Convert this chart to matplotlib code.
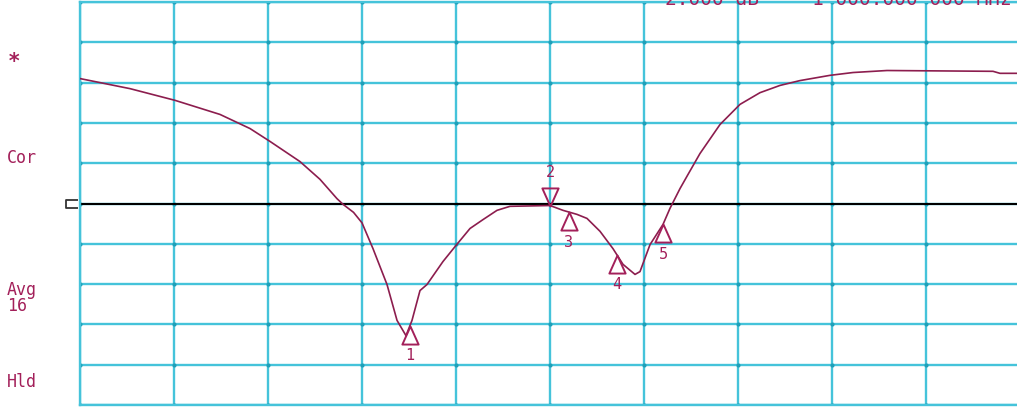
import numpy as np
import matplotlib
matplotlib.use("Agg")
import matplotlib.pyplot as plt
from matplotlib.path import Path
from matplotlib.transforms import blended_transform_factory

# ---- data (frequency in MHz, level in dB; 20 MHz/div, 1 dB/div, ref 0 dB) ----
freq = [900.0, 910.64, 920.21, 929.79, 936.17, 940.43, 946.81, 951.06, 954.68, 955.96,
        958.2, 960.0, 962.34, 965.32, 967.45, 969.36, 970.64, 972.34, 973.83, 977.23, 979.79,
        982.98, 985.74, 988.72, 991.49, 1000.0, 1002.77, 1005.74, 1007.87, 1010.64, 1013.40,
        1015.53, 1018.09, 1019.15, 1021.28, 1024.04, 1025.53, 1027.66, 1029.36, 1031.91, 1036.17,
        1040.43, 1044.68, 1048.94, 1053.19, 1059.57, 1064.47, 1071.70, 1094.26, 1095.74, 1100.0]
level = [3.10, 2.85, 2.56, 2.21, 1.86, 1.54, 1.04, 0.60, 0.12, -0.02,
         -0.22, -0.48, -1.12, -2.01, -2.90, -3.28, -2.90, -2.16, -2.01, -1.44, -1.07,
         -0.62, -0.40, -0.17, -0.07, -0.05, -0.17, -0.27, -0.37, -0.69, -1.12,
         -1.51, -1.76, -1.69, -1.02, -0.52, -0.12, 0.37, 0.72, 1.24, 1.96,
         2.46, 2.75, 2.93, 3.05, 3.18, 3.25, 3.30, 3.28, 3.23, 3.23]

marker_ids = ["1", "2", "3", "4", "5"]
marker_freq = [970.21, 1000.0, 1004.04, 1014.26, 1024.04]
marker_up = [True, False, True, True, True]

ref_level = 0.0
f_start, f_stop = 900.0, 1100.0
y_top, y_bot = 5.0, -5.0

side_labels = ["*", "Cor", "Avg\n16", "Hld"]
header_texts = ["2.000 dB", "1 000.000 000 MHz"]

# ---- style ----
GRID = "#45c3da"
DOT = "#1f9fb8"
TRACE = "#8c1d4e"
TEXT = "#a3205a"

fig = plt.figure(figsize=(10.17, 4.16), dpi=100)
fig.patch.set_facecolor("white")
ax = fig.add_axes([80 / 1017, 1 - 405 / 416, 940 / 1017, 403 / 416])
ax.set_xlim(f_start, f_stop)
ax.set_ylim(y_bot, y_top)

xt = np.linspace(f_start, f_stop, 11)
yt = np.linspace(y_bot, y_top, 11)
for x in xt:
    ax.axvline(x, color=GRID, lw=1.7, zorder=1)
for y in yt:
    ax.axhline(y, color=GRID, lw=1.7, zorder=1)
gx, gy = np.meshgrid(xt, yt)
ax.scatter(gx.ravel(), gy.ravel(), s=9, color=DOT, zorder=1.5, linewidths=0)
for s in ax.spines.values():
    s.set_color(GRID)
    s.set_linewidth(1.7)
ax.set_xticks([])
ax.set_yticks([])

# reference line
ax.axhline(ref_level, color="black", lw=1.5, zorder=2)
bt = blended_transform_factory(ax.transAxes, ax.transData)
ref_path = Path([(0.5, 0.35), (-0.5, 0.35), (-0.5, -0.35), (0.5, -0.35)],
                [Path.MOVETO, Path.LINETO, Path.LINETO, Path.LINETO])
ax.plot([-0.008], [ref_level], transform=bt, marker=ref_path, ms=9, mfc="none",
        mec="#333333", mew=1.3, clip_on=False, zorder=3)

# trace
ax.plot(freq, level, color=TRACE, lw=1.2, zorder=4)

# markers
up_tri = Path([(0, 0), (-0.45, -1), (0.45, -1), (0, 0)],
              [Path.MOVETO, Path.LINETO, Path.LINETO, Path.CLOSEPOLY])
down_tri = Path([(0, 0), (-0.45, 1), (0.45, 1), (0, 0)],
                [Path.MOVETO, Path.LINETO, Path.LINETO, Path.CLOSEPOLY])
for mid, mf, up in zip(marker_ids, marker_freq, marker_up):
    my = np.interp(mf, freq, level)
    ax.plot([mf], [my], marker=up_tri if up else down_tri, ms=26, mfc="none",
            mec=TEXT, mew=1.4, zorder=5)
    ax.annotate(mid, (mf, my), xytext=(0, -30 if up else 33), textcoords="offset pixels",
                ha="center", va="center", color=TEXT, fontsize=11,
                family="DejaVu Sans Mono", zorder=6)

# side annotations
mono = dict(family="DejaVu Sans Mono", color=TEXT)
fig.text(8 / 1017, 1 - 62 / 416, side_labels[0], fontsize=15, **mono, va="center",
         fontweight="bold")
fig.text(7 / 1017, 1 - 158 / 416, side_labels[1], fontsize=12, **mono, va="center")
fig.text(7 / 1017, 1 - 298 / 416, side_labels[2], fontsize=12, **mono, va="center",
         linespacing=0.85)
fig.text(7 / 1017, 1 - 382 / 416, side_labels[3], fontsize=12, **mono, va="center")

# header (cut off by the top edge, as in the scanned reference)
fig.text(665 / 1017, 1 - 5 / 416, header_texts[0], fontsize=14, **mono, va="baseline")
fig.text(812 / 1017, 1 - 5 / 416, header_texts[1], fontsize=14, **mono, va="baseline")

fig.savefig("out.png", dpi=100)
